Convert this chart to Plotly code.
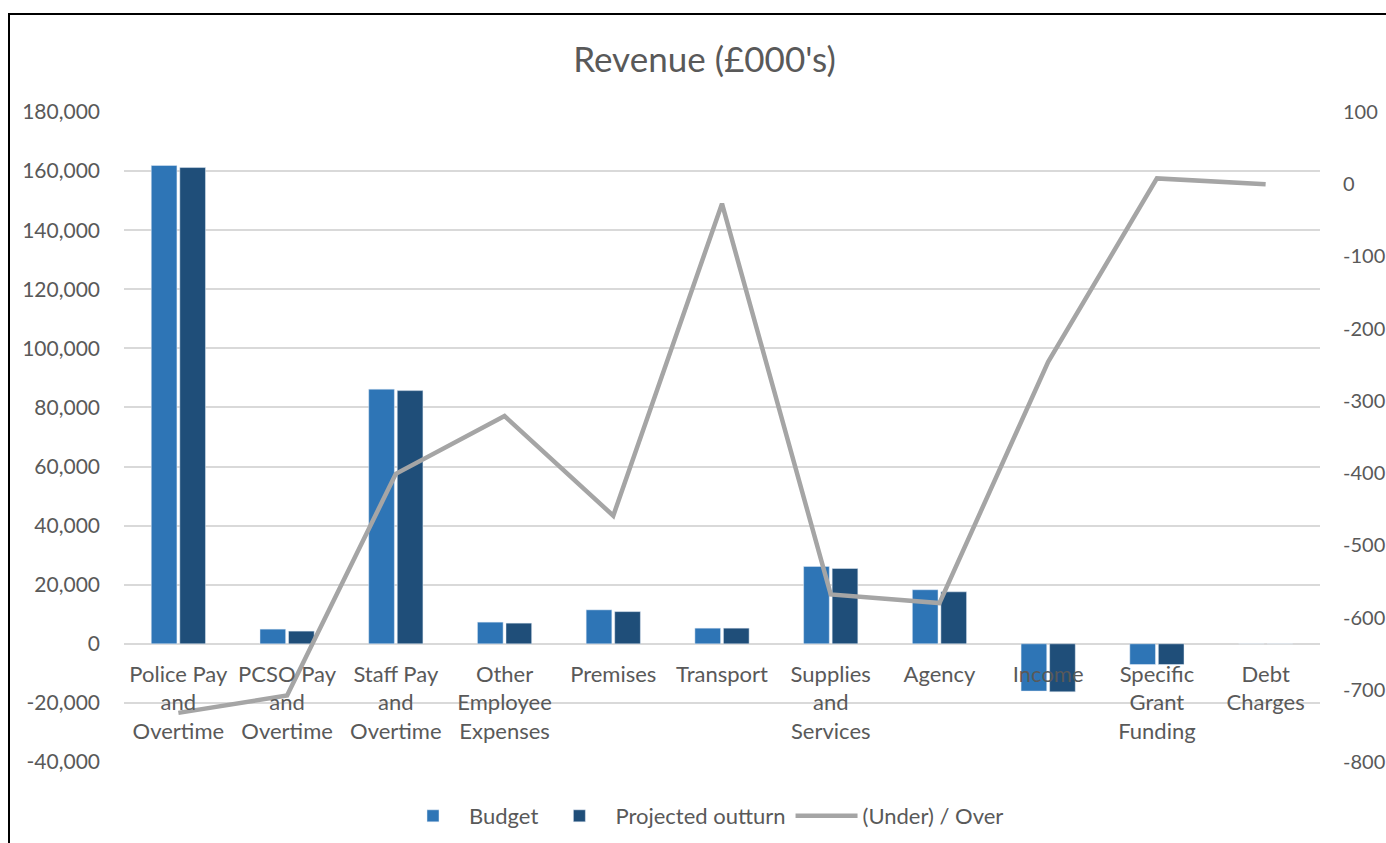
import plotly.graph_objects as go

categories = ["Police Pay and Overtime", "PCSO Pay and Overtime", "Staff Pay and Overtime",
              "Other Employee Expenses", "Premises", "Transport", "Supplies and Services",
              "Agency", "Income", "Specific Grant Funding", "Debt Charges"]
tick_labels = ["Police Pay<br>and<br>Overtime", "PCSO Pay<br>and<br>Overtime", "Staff Pay<br>and<br>Overtime",
               "Other<br>Employee<br>Expenses", "Premises", "Transport", "Supplies<br>and<br>Services",
               "Agency", "Income", "Specific<br>Grant<br>Funding", "Debt<br>Charges"]
budget = [161900, 4970, 86200, 7340, 11500, 5300, 26200, 18300, -16000, -7000, 0]
projected = [161200, 4300, 85700, 7000, 10900, 5300, 25500, 17600, -16250, -7000, 0]
under_over = [-732, -708, -401, -321, -459, -27, -568, -580, -246, 8, 0]

left_ticks = list(range(-40000, 180001, 20000))
left_tick_text = [f"{v:,}" for v in left_ticks]
right_ticks = list(range(-800, 101, 100))
right_tick_text = [str(v) for v in right_ticks]

FONT = "Lato"
TXT = "#595959"

W, H = 1386, 843
ML, MR, MT, MB = 124, 66, 112, 81
PW, PH = W - ML - MR, H - MT - MB
BOTTOM = MT + PH  # pixel row of plot bottom

fig = go.Figure()
fig.add_trace(go.Bar(x=categories, y=budget, name="Budget", marker_color="#2E75B6"))
fig.add_trace(go.Bar(x=categories, y=projected, name="Projected outturn", marker_color="#1F4E79"))
fig.add_trace(go.Scatter(x=categories, y=under_over, name="(Under) / Over", mode="lines",
                         line=dict(color="#A5A5A5", width=4.5), yaxis="y2"))

zero_frac = 40000 / 220000

fig.update_layout(
    width=W, height=H,
    margin=dict(l=ML, r=MR, t=MT, b=MB, autoexpand=False),
    paper_bgcolor="white", plot_bgcolor="white",
    font=dict(family=FONT, color=TXT, size=21),
    title=dict(text="Revenue (£000's)", x=704.5 / W, xanchor="center", y=1 - 60 / H, yanchor="middle",
               font=dict(size=35, color=TXT, family=FONT)),
    barmode="group", bargap=0.475, bargroupgap=0.1,
    xaxis=dict(tickvals=categories, ticktext=tick_labels, anchor="free", position=zero_frac,
               showline=False, showgrid=False, ticks="", tickfont=dict(size=22, color=TXT),
               ticklabelstandoff=15, range=[-0.5, 10.5], automargin=False),
    yaxis=dict(range=[-40000, 180000], tickvals=left_ticks, ticktext=left_tick_text, showgrid=True,
               gridcolor="#D9D9D9", gridwidth=1.5, zeroline=True, zerolinecolor="#D9D9D9",
               zerolinewidth=1.5, ticks="", ticklabelstandoff=23, tickfont=dict(size=21, color=TXT),
               automargin=False),
    yaxis2=dict(range=[-800, 100], tickvals=right_ticks, ticktext=right_tick_text, overlaying="y",
                side="right", showgrid=False, zeroline=False, ticks="", ticklabelstandoff=22,
                tickfont=dict(size=20, color=TXT), automargin=False),
    legend=dict(orientation="h", x=(703 - ML) / PW, xanchor="center", y=-(816 - BOTTOM) / PH,
                yanchor="middle", font=dict(size=22, color=TXT), traceorder="normal", itemwidth=62),
    shapes=[dict(type="rect", xref="paper", yref="paper",
                 x0=(9 - ML) / PW, x1=(1420 - ML) / PW,
                 y0=(BOTTOM - 900) / PH, y1=(BOTTOM - 14) / PH,
                 line=dict(color="black", width=2), fillcolor="rgba(0,0,0,0)", layer="below")],
)

fig.write_html("out.html", config={"displayModeBar": False},
               post_script="document.body.style.margin='0';document.body.style.overflow='hidden';")
